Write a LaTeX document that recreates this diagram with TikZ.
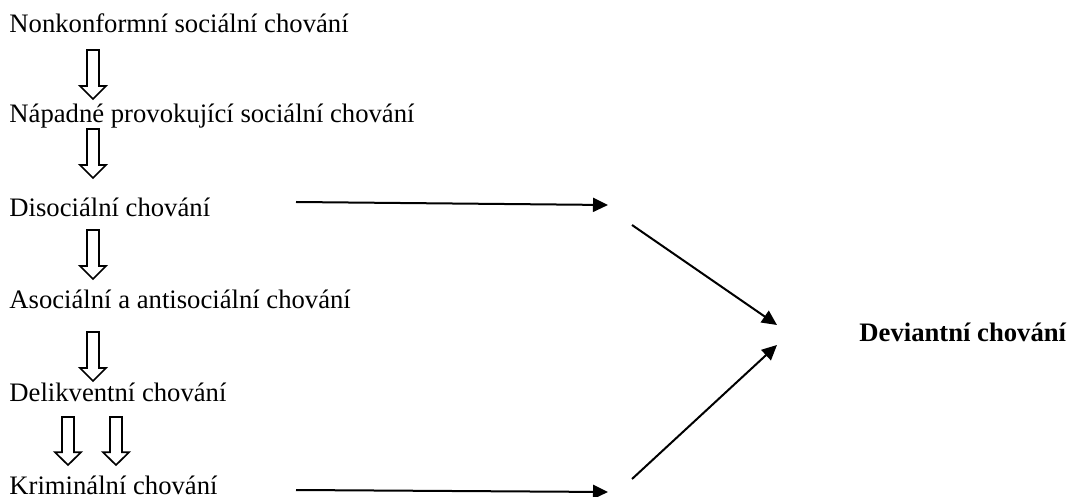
\documentclass[tikz,border=0pt]{standalone}
\usepackage{fontspec}
\setmainfont{Liberation Serif}
\usepackage{tikz}
\usetikzlibrary{arrows.meta}

\begin{document}
\begin{tikzpicture}[
			     x=0.45pt, y=-0.45pt,
			     label text/.style={anchor=base west, inner sep=0pt, font=\fontsize{12pt}{14pt}\selectfont},
			     normal line/.style={line width=0.9pt, -{Triangle[length=6.75pt, width=6.3pt]}},
			     hollow arrow/.pic={\draw[line width=0.75pt, line join=miter] (-6,0) -- (-6,36) -- (-13,36) -- (0,49) -- (13,36) -- (6,36) -- (6,0) -- cycle;}
			     ]
\useasboundingbox (0,0) rectangle (1068,497);
% levels of behaviour
\node[label text] (nonkonf) at (9,33) {Nonkonformní sociální chování};
\node[label text] (napadne) at (9,123) {Nápadné provokující sociální chování};
\node[label text] (disoc) at (9,217) {Disociální chování};
\node[label text] (asoc) at (9,309) {Asociální a antisociální chování};
\node[label text] (delikv) at (9,402) {Delikventní chování};
\node[label text] (krimin) at (9,494) {Kriminální chování};
\node[label text, font=\fontsize{12pt}{14pt}\selectfont\bfseries] (deviant) at (859,342) {Deviantní chování};
% hollow arrows
\pic at (93,50) {hollow arrow};
\pic at (93,129) {hollow arrow};
\pic at (93,230) {hollow arrow};
\pic at (93,332) {hollow arrow};
\pic[yscale=0.98] at (68,417) {hollow arrow};
\pic[yscale=0.98] at (116,417) {hollow arrow};
% arrows to the right
\coordinate (dis-a) at (296,202);
\coordinate (dis-b) at (608,205);
\coordinate (kri-a) at (296,490);
\coordinate (kri-b) at (608,492);
\coordinate (up-a) at (632,225);
\coordinate (up-b) at (777,325);
\coordinate (lo-a) at (632,479);
\coordinate (lo-b) at (777,345);
\draw[normal line] (dis-a) -- (dis-b);
\draw[normal line] (kri-a) -- (kri-b);
\draw[normal line] (up-a) -- (up-b);
\draw[normal line] (lo-a) -- (lo-b);
\end{tikzpicture}
\end{document}
